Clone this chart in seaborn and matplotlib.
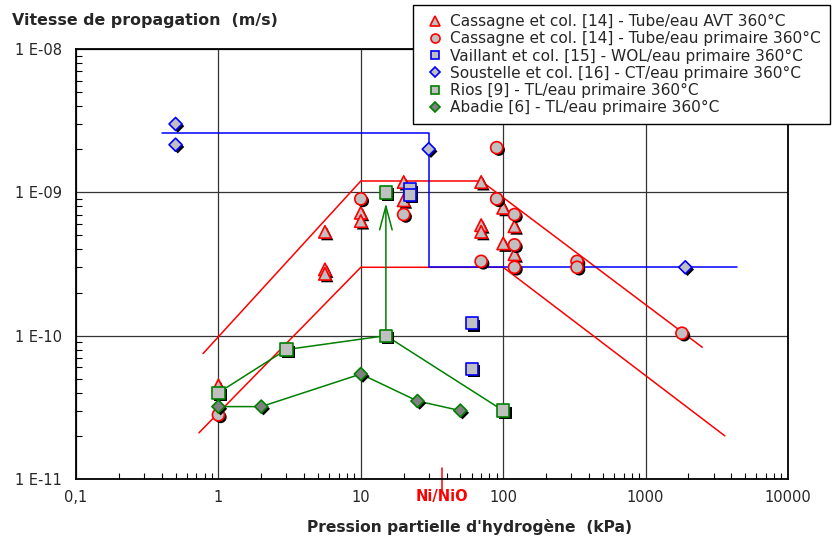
import matplotlib
matplotlib.use("Agg")
import matplotlib.pyplot as plt
import matplotlib.patheffects as pe
import matplotlib.transforms as mtransforms
from matplotlib.lines import Line2D
from matplotlib.ticker import FixedLocator, FixedFormatter, LogLocator, NullFormatter
import seaborn as sns

# Data
cas_avt_x = [1, 5.6, 5.6, 5.6, 10, 10, 20, 20, 70, 70, 70, 100, 100, 120, 120]
cas_avt_y = [4.5e-11, 5.3e-10, 2.9e-10, 2.7e-10, 7.2e-10, 6.3e-10, 1.18e-9, 8.8e-10,
             1.18e-9, 5.9e-10, 5.3e-10, 7.8e-10, 4.4e-10, 5.8e-10, 3.7e-10]

cas_pri_x = [1, 10, 20, 70, 90, 90, 120, 120, 120, 330, 330, 1800]
cas_pri_y = [2.8e-11, 9e-10, 7e-10, 3.3e-10, 2.05e-9, 9e-10, 7e-10, 4.3e-10, 3e-10,
             3.3e-10, 3e-10, 1.04e-10]

vaillant_x = [22, 22, 60, 60]
vaillant_y = [1.05e-9, 9.6e-10, 1.22e-10, 5.9e-11]

soustelle_x = [0.5, 0.5, 30, 1900]
soustelle_y = [3e-9, 2.15e-9, 2e-9, 3e-10]

rios_x = [1, 3, 15, 100]
rios_y = [4e-11, 8e-11, 1e-10, 3e-11]
rios_extra_x = [15]
rios_extra_y = [1e-9]

abadie_x = [1, 2, 10, 25, 50]
abadie_y = [3.2e-11, 3.2e-11, 5.4e-11, 3.5e-11, 3e-11]

env_up_x = [0.78, 10, 70, 2500]
env_up_y = [7.5e-11, 1.2e-9, 1.2e-9, 8.3e-11]
env_low_x = [0.73, 10, 100, 3600]
env_low_y = [2.1e-11, 3e-10, 3e-10, 2e-11]
blue_x = [0.4, 30, 30, 4400]
blue_y = [2.6e-9, 2.6e-9, 3e-10, 3e-10]

arrow_x = 15
arrow_from = 1e-10
arrow_to = 8.4e-10
ni_nio_x = 37

xticks = [0.1, 1, 10, 100, 1000, 10000]
xticklabels = ['0,1', '1', '10', '100', '1000', '10000']
yticks = [1e-11, 1e-10, 1e-9, 1e-8]
yticklabels = ['1 E-11', '1 E-10', '1 E-09', '1 E-08']

labels = ["Cassagne et col. [14] - Tube/eau AVT 360°C",
          "Cassagne et col. [14] - Tube/eau primaire 360°C",
          "Vaillant et col. [15] - WOL/eau primaire 360°C",
          "Soustelle et col. [16] - CT/eau primaire 360°C",
          "Rios [9] - TL/eau primaire 360°C",
          "Abadie [6] - TL/eau primaire 360°C"]

RED = '#ff0000'
BLUE = '#0000ff'
GREEN = '#008000'
FILL = '#c0c0c0'
DARK = '#808080'

sns.set_style("white")
plt.rcParams['font.family'] = ['DejaVu Sans']

fig = plt.figure(figsize=(8.4, 5.41), dpi=100)
ax = fig.add_axes([0.0905, 0.1146, 0.8476, 0.7948])
ax.set_xscale('log')
ax.set_yscale('log')
ax.set_xlim(0.1, 10000)
ax.set_ylim(1e-11, 1e-8)

shadow = [pe.SimplePatchShadow(offset=(1.6, -1.6), shadow_rgbFace='k', alpha=1.0), pe.Normal()]

# lines
ax.plot(env_up_x, env_up_y, color=RED, lw=1.1, zorder=2)
ax.plot(env_low_x, env_low_y, color=RED, lw=1.1, zorder=2)
ax.plot(blue_x, blue_y, color=BLUE, lw=1.1, zorder=2)
sns.lineplot(x=rios_x, y=rios_y, color=GREEN, lw=1.1, ax=ax, zorder=2, sort=False)
sns.lineplot(x=abadie_x, y=abadie_y, color=GREEN, lw=1.1, ax=ax, zorder=2, sort=False)
ax.annotate('', xy=(arrow_x, arrow_to), xytext=(arrow_x, arrow_from),
            arrowprops=dict(arrowstyle='->,head_length=1.7,head_width=0.45',
                            color=GREEN, lw=1.1, shrinkA=0, shrinkB=0), zorder=2)


def points(x, y, marker, s, edge, fill):
    sns.scatterplot(x=x, y=y, marker=marker, s=s, color=fill, edgecolor=edge,
                    linewidth=1.2, ax=ax, zorder=4, legend=False)
    ax.collections[-1].set_path_effects(shadow)


points(cas_avt_x, cas_avt_y, '^', 80, RED, FILL)
points(cas_pri_x, cas_pri_y, 'o', 75, RED, FILL)
points(soustelle_x, soustelle_y, 'D', 44, BLUE, FILL)
points(vaillant_x, vaillant_y, 's', 75, BLUE, FILL)
points(rios_x + rios_extra_x, rios_y + rios_extra_y, 's', 79, GREEN, FILL)
points(abadie_x, abadie_y, 'D', 44, GREEN, DARK)

# axes styling
ax.xaxis.set_major_locator(FixedLocator(xticks))
ax.xaxis.set_major_formatter(FixedFormatter(xticklabels))
ax.yaxis.set_major_locator(FixedLocator(yticks))
ax.yaxis.set_major_formatter(FixedFormatter(yticklabels))
ax.xaxis.set_minor_locator(LogLocator(base=10, subs=range(2, 10), numticks=20))
ax.yaxis.set_minor_locator(LogLocator(base=10, subs=range(2, 10), numticks=20))
ax.xaxis.set_minor_formatter(NullFormatter())
ax.yaxis.set_minor_formatter(NullFormatter())
ax.tick_params(which='major', direction='in', length=0, labelsize=10.5)
ax.tick_params(axis='x', which='major', pad=8)
ax.tick_params(axis='y', which='major', pad=10)
ax.tick_params(which='minor', direction='in', length=4, width=0.8, color='k',
               bottom=True, left=True, top=False, right=False)
ax.grid(True, which='major', color='0.2', lw=0.9)
for sp in ax.spines.values():
    sp.set_color('k')
    sp.set_linewidth(1.3)
    sp.set_visible(True)

ax.set_xlabel("Pression partielle d'hydrogène  (kPa)", fontsize=11.2, fontweight='bold')
ax.xaxis.set_label_coords(0.553, -0.092)
fig.text(12 / 840, 1 - 21 / 541, "Vitesse de propagation  (m/s)", fontsize=11.4,
         fontweight='bold', va='center', ha='left')

# Ni/NiO marker
trans = mtransforms.blended_transform_factory(ax.transData, ax.transAxes)
ax.plot([ni_nio_x, ni_nio_x], [-0.026, 0.026], color=RED, lw=1.1, transform=trans, clip_on=False)
ax.text(ni_nio_x, -0.04, 'Ni/NiO', color=RED, fontsize=10.5, fontweight='bold',
        ha='center', va='center', transform=trans)

# legend
handles = [
    Line2D([], [], ls='', marker='^', ms=6.5, mfc=FILL, mec=RED, mew=1.2),
    Line2D([], [], ls='', marker='o', ms=6.5, mfc=FILL, mec=RED, mew=1.2),
    Line2D([], [], ls='', marker='s', ms=6.0, mfc=FILL, mec=BLUE, mew=1.2),
    Line2D([], [], ls='', marker='D', ms=4.8, mfc=FILL, mec=BLUE, mew=1.2),
    Line2D([], [], ls='', marker='s', ms=6.0, mfc=FILL, mec=GREEN, mew=1.2),
    Line2D([], [], ls='', marker='D', ms=4.8, mfc=DARK, mec=GREEN, mew=1.2),
]
leg = fig.legend(handles, labels, loc='upper left', bbox_to_anchor=(413 / 840, 1 - 5 / 541),
                 bbox_transform=fig.transFigure, fontsize=11.1, frameon=True, fancybox=False,
                 framealpha=1, edgecolor='k', handlelength=1.7, handletextpad=0.1,
                 labelspacing=0.14, borderpad=0.6, borderaxespad=0)
leg.get_frame().set_linewidth(1.0)

fig.savefig('out.png', dpi=100)
